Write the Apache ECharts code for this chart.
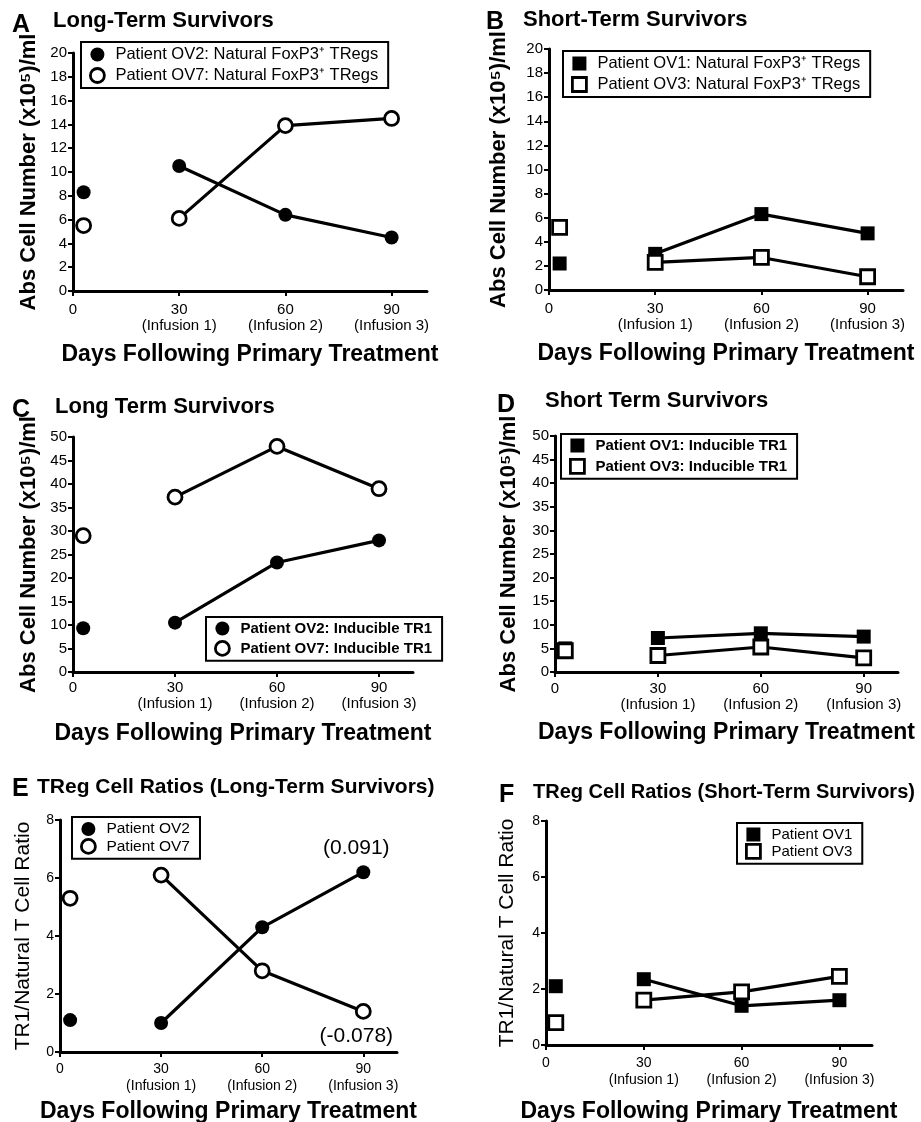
<!DOCTYPE html>
<html><head><meta charset="utf-8">
<script src="https://cdn.jsdelivr.net/npm/echarts@6/dist/echarts.min.js"></script>
<style>html,body{margin:0;padding:0;background:#fff}#c{width:921px;height:1122px}</style>
</head><body><div id="c"></div>
<script>
// ---- data ----
const days = [3, 30, 60, 90];
const xTickValues = [0, 30, 60, 90];
const xTickSubLabels = ['', '(Infusion 1)', '(Infusion 2)', '(Infusion 3)'];

const panelLetters = ['A', 'B', 'C', 'D', 'E', 'F'];
const panelTitles = ['Long-Term Survivors', 'Short-Term Survivors', 'Long Term Survivors', 'Short Term Survivors',
  'TReg Cell Ratios (Long-Term Survivors)', 'TReg Cell Ratios (Short-Term Survivors)'];
const yAxisTitles = ['Abs Cell Number (x10\u2075)/ml', 'Abs Cell Number (x10\u2075)/ml', 'Abs Cell Number (x10\u2075)/ml',
  'Abs Cell Number (x10\u2075)/ml', 'TR1/Natural T Cell Ratio', 'TR1/Natural T Cell Ratio'];
const xAxisTitle = 'Days Following Primary Treatment';

// Panel A
const aNames = ['Patient OV2: Natural FoxP3\u207A TRegs', 'Patient OV7: Natural FoxP3\u207A TRegs'];
const aOV2 = [8.3, 10.5, 6.4, 4.5];
const aOV7 = [5.5, 6.1, 13.9, 14.5];
// Panel B
const bNames = ['Patient OV1: Natural FoxP3\u207A TRegs', 'Patient OV3: Natural FoxP3\u207A TRegs'];
const bOV1 = [2.2, 3.0, 6.3, 4.7];
const bOV3 = [5.2, 2.3, 2.7, 1.1];
// Panel C
const cNames = ['Patient OV2: Inducible TR1', 'Patient OV7: Inducible TR1'];
const cOV2 = [9.3, 10.5, 23.3, 28.0];
const cOV7 = [29.0, 37.2, 48.0, 39.0];
// Panel D
const dNames = ['Patient OV1: Inducible TR1', 'Patient OV3: Inducible TR1'];
const dOV1 = [5.0, 7.2, 8.2, 7.5];
const dOV3 = [4.5, 3.5, 5.3, 3.0];
// Panel E
const eNames = ['Patient OV2', 'Patient OV7'];
const eOV2 = [1.1, 1.0, 4.3, 6.2];
const eOV7 = [5.3, 6.1, 2.8, 1.4];
const eAnnotations = ['(0.091)', '(-0.078)'];
// Panel F
const fNames = ['Patient OV1', 'Patient OV3'];
const fOV1 = [2.1, 2.35, 1.4, 1.6];
const fOV3 = [0.8, 1.6, 1.9, 2.45];

const yMax = [20, 20, 50, 50, 8, 8];
const yInterval = [2, 2, 5, 5, 2, 2];

// ---- layout ----
const FONT = "'Liberation Sans', Arial, sans-serif";
const grids = [
  {left: 73, top: 53, width: 354, height: 238},
  {left: 549, top: 49, width: 354, height: 241},
  {left: 73, top: 437, width: 340, height: 235},
  {left: 555, top: 436, width: 343, height: 236},
  {left: 60, top: 820, width: 337, height: 232},
  {left: 546, top: 821, width: 326, height: 224}
];
const letterPos = [[12, 13], [486, 10], [12, 398], [497, 393], [12, 777], [499, 783]];
const titlePos = [[53, 10, 22], [523, 9, 22], [55, 396, 22], [545, 390, 22], [37, 777, 21], [533, 782, 20]];
const yNameGap = [33, 39, 33, 35, 26, 28];
const xLabelMargin = [10, 10, 7, 8, 9, 10];
const xNameGap = [52, 52, 50, 49, 48, 55];
const tickFont = [15, 15, 15, 15, 14, 14];
const subFont = [15, 15, 15, 15, 14, 14];

const filled = (sym) => ({symbol: sym, symbolSize: 14, itemStyle: {color: '#000', borderColor: '#000', borderWidth: 0, opacity: 1}});
const open = (sym) => ({symbol: sym, symbolSize: 14, itemStyle: {color: '#fff', borderColor: '#000', borderWidth: 2.8, opacity: 1}});

const panels = [
  {names: aNames, vals: [aOV2, aOV7], sym: 'circle'},
  {names: bNames, vals: [bOV1, bOV3], sym: 'rect'},
  {names: cNames, vals: [cOV2, cOV7], sym: 'circle'},
  {names: dNames, vals: [dOV1, dOV3], sym: 'rect'},
  {names: eNames, vals: [eOV2, eOV7], sym: 'circle'},
  {names: fNames, vals: [fOV1, fOV3], sym: 'rect'}
];
const legendPos = [
  {left: 81, top: 42, fs: 16.5, fw: 'normal', gap: 4},
  {left: 563, top: 51, fs: 16.5, fw: 'normal', gap: 4},
  {left: 206, top: 617, fs: 15, fw: 'bold', gap: 4},
  {left: 561, top: 434, fs: 15, fw: 'bold', gap: 5},
  {left: 72, top: 817, fs: 15.5, fw: 'normal', gap: 1},
  {left: 737, top: 823, fs: 15, fw: 'normal', gap: 1}
];

const title = [], grid = [], xAxis = [], yAxis = [], series = [], legend = [];
panels.forEach((p, k) => {
  title.push({text: panelLetters[k], left: letterPos[k][0], top: letterPos[k][1], padding: 0,
    textStyle: {fontFamily: FONT, fontSize: 25, fontWeight: 'bold', color: '#000'}});
  title.push({text: panelTitles[k], left: titlePos[k][0], top: titlePos[k][1], padding: 0,
    textStyle: {fontFamily: FONT, fontSize: titlePos[k][2], fontWeight: 'bold', color: '#000'}});
  grid.push(Object.assign({containLabel: false, outerBoundsMode: 'none'}, grids[k]));
  xAxis.push({
    type: 'value', gridIndex: k, min: 0, max: 100,
    name: xAxisTitle, nameLocation: 'middle', nameGap: xNameGap[k],
    nameTextStyle: {fontFamily: FONT, fontSize: 23, fontWeight: 'bold', color: '#000'},
    axisLine: {show: true, onZero: false, lineStyle: {color: '#000', width: 3}},
    axisTick: {show: true, customValues: xTickValues, length: 5, inside: false, lineStyle: {color: '#000', width: 2}},
    splitLine: {show: false},
    axisLabel: {
      customValues: xTickValues, margin: xLabelMargin[k], color: '#000', fontFamily: FONT,
      formatter: (v) => {
        const i = xTickValues.indexOf(v);
        return i > 0 ? '{n|' + v + '}\n{s|' + xTickSubLabels[i] + '}' : '{n|' + v + '}';
      },
      rich: {
        n: {fontFamily: FONT, fontSize: tickFont[k], color: '#000', lineHeight: 17},
        s: {fontFamily: FONT, fontSize: subFont[k], color: '#000', lineHeight: 16}
      }
    }
  });
  yAxis.push({
    type: 'value', gridIndex: k, min: 0, max: yMax[k], interval: yInterval[k],
    name: yAxisTitles[k], nameLocation: 'middle', nameGap: yNameGap[k], nameRotate: 90,
    nameTextStyle: {fontFamily: FONT, fontSize: k < 4 ? 22 : 21, fontWeight: k < 4 ? 'bold' : 'normal', color: '#000'},
    axisLine: {show: true, lineStyle: {color: '#000', width: 3}},
    axisTick: {show: true, length: 5, lineStyle: {color: '#000', width: 2}},
    splitLine: {show: false},
    axisLabel: {fontFamily: FONT, fontSize: tickFont[k], color: '#000', margin: 6}
  });
  p.names.forEach((nm, j) => {
    const st = j === 0 ? filled(p.sym) : open(p.sym);
    const v = p.vals[j];
    // baseline point (not connected)
    series.push(Object.assign({
      type: 'scatter', name: nm, xAxisIndex: k, yAxisIndex: k, z: 3,
      data: [[days[0], v[0]]]
    }, st));
    // infusion points connected by line
    const lineData = days.slice(1).map((d, i) => [d, v[i + 1]]);
    const s = Object.assign({
      type: 'line', name: nm, xAxisIndex: k, yAxisIndex: k, z: 2,
      lineStyle: {color: '#000', width: 3.2}, showSymbol: true, animation: false,
      data: lineData
    }, st);
    if (k === 4) {
      const ann = eAnnotations[j];
      s.data = lineData.map((pt, i) => i === lineData.length - 1 ? {
        value: pt,
        label: {show: true, formatter: ann, position: j === 0 ? 'top' : 'bottom', distance: 6,
          offset: [-7, 0], fontFamily: FONT, fontSize: 21, color: '#000'}
      } : pt);
    }
    series.push(s);
  });
  const lp = legendPos[k];
  legend.push({
    orient: 'vertical', left: lp.left, top: lp.top,
    data: p.names.map((nm, j) => ({
      name: nm, icon: p.sym,
      itemStyle: j === 0 ? {color: '#000', borderWidth: 0} : {color: '#fff', borderColor: '#000', borderWidth: 2.8}
    })),
    itemWidth: 14, itemHeight: 14, itemGap: lp.gap,
    borderColor: '#000', borderWidth: 2, padding: [4, 10, 4, 8],
    selectedMode: false,
    textStyle: {fontFamily: FONT, fontSize: lp.fs, fontWeight: lp.fw, color: '#000', padding: [0, 0, 0, 6]}
  });
});

const chart = echarts.init(document.getElementById('c'), null, {renderer: 'canvas'});
chart.setOption({
  animation: false, backgroundColor: '#fff',
  title, grid, xAxis, yAxis, series, legend
});
</script>
</body></html>
